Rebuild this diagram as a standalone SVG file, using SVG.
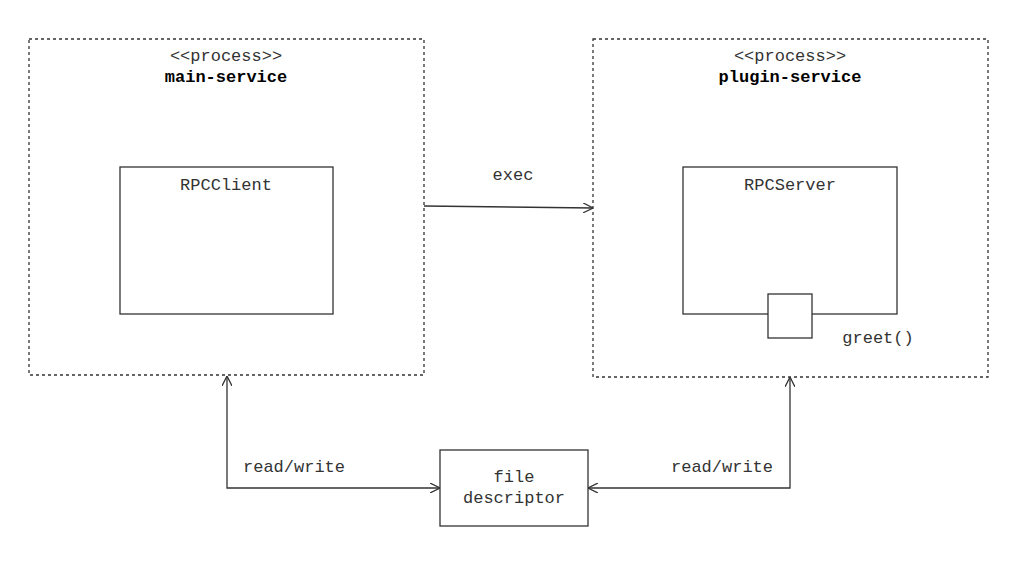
<svg xmlns="http://www.w3.org/2000/svg" width="1024" height="566" viewBox="0 0 1024 566">
<style>
text{font-family:"Liberation Mono","DejaVu Sans Mono",monospace;font-size:17px;fill:#333;text-anchor:middle}
.b{font-weight:bold;fill:#000}
.proc{fill:none;stroke:#333;stroke-width:1.3;stroke-dasharray:3,3}
.box{fill:#fff;stroke:#333;stroke-width:1.3}
.c{fill:none;stroke:#333;stroke-width:1.3}
</style>
<defs>
<marker id="a" viewBox="0 0 10 10" refX="10" refY="5" markerWidth="10" markerHeight="10" markerUnits="userSpaceOnUse" orient="auto-start-reverse">
<path d="M0,0 L10,5 L0,10" fill="none" stroke="#333" stroke-width="1.3"/>
</marker>
</defs>
<rect width="1024" height="566" fill="#fff"/>
<g id="main-service">
<rect class="proc" x="29" y="39" width="395" height="336"/>
<text x="226" y="61">&lt;&lt;process&gt;&gt;</text>
<text class="b" x="226" y="82">main-service</text>
</g>
<g id="rpcclient">
<rect class="box" x="120" y="167" width="213" height="147"/>
<text x="226" y="190">RPCClient</text>
</g>
<g id="plugin-service">
<rect class="proc" x="593" y="39" width="395" height="338"/>
<text x="790" y="61">&lt;&lt;process&gt;&gt;</text>
<text class="b" x="790" y="82">plugin-service</text>
</g>
<g id="rpcserver">
<rect class="box" x="683" y="167" width="214" height="147"/>
<text x="790" y="190">RPCServer</text>
</g>
<g id="greet">
<rect class="box" x="768" y="294" width="44" height="44"/>
<text x="878" y="343">greet()</text>
</g>
<g id="file-descriptor">
<rect class="box" x="440" y="450" width="148" height="76"/>
<text x="514" y="482">file</text>
<text x="514" y="503">descriptor</text>
</g>
<g id="connectors">
<path class="c" d="M424,206 L593,208" marker-end="url(#a)"/>
<text x="513" y="180">exec</text>
<path class="c" d="M227,376 L227,488 L440,488" marker-start="url(#a)" marker-end="url(#a)"/>
<text x="294" y="472">read/write</text>
<path class="c" d="M790,377 L790,488 L588,488" marker-start="url(#a)" marker-end="url(#a)"/>
<text x="722" y="472">read/write</text>
</g>
</svg>
